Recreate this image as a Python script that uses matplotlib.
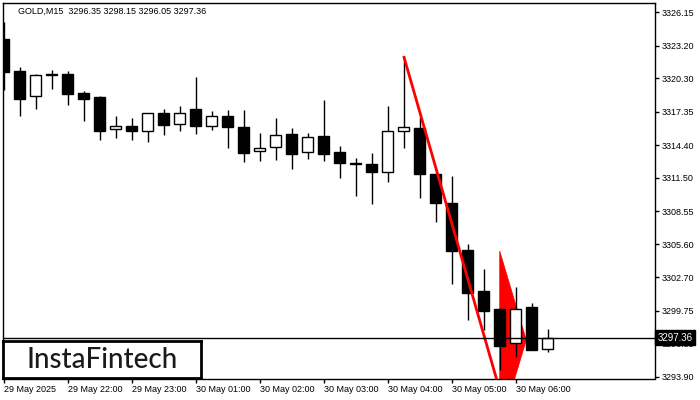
import matplotlib
matplotlib.use('Agg')
import matplotlib.pyplot as plt
from matplotlib.patches import Polygon

# GOLD M15 candles
opens = [3323.78, 3320.95, 3318.77, 3320.70, 3320.71, 3319.01, 3318.65, 3315.79, 3316.09, 3315.67,
         3317.21, 3316.24, 3317.59, 3316.11, 3316.97, 3316.00, 3313.85, 3314.20, 3315.38, 3313.76,
         3315.20, 3313.78, 3312.78, 3312.72, 3311.99, 3315.62, 3315.91, 3311.84, 3309.27, 3305.11,
         3301.48, 3299.89, 3296.86, 3300.07, 3296.35]
highs = [3325.32, 3321.31, 3320.71, 3321.04, 3320.95, 3319.18, 3318.70, 3316.97, 3316.79, 3317.25,
         3317.59, 3317.86, 3320.42, 3317.39, 3317.50, 3317.50, 3315.47, 3316.79, 3315.91, 3315.47,
         3318.39, 3314.32, 3313.25, 3313.70, 3317.86, 3322.28, 3316.91, 3311.90, 3311.66, 3305.64,
         3303.43, 3300.00, 3301.84, 3300.42, 3298.15]
lows = [3319.25, 3317.00, 3317.59, 3319.36, 3317.97, 3316.55, 3314.87, 3315.05, 3314.87, 3314.64,
        3315.32, 3315.67, 3315.40, 3315.76, 3314.17, 3312.93, 3313.02, 3313.10, 3312.31, 3313.19,
        3313.02, 3311.51, 3309.92, 3309.16, 3311.16, 3314.17, 3309.74, 3307.62, 3302.13, 3298.94,
        3298.03, 3294.49, 3295.67, 3296.25, 3296.05]
closes = [3320.84, 3318.50, 3320.60, 3320.62, 3318.92, 3318.50, 3315.67, 3316.09, 3315.62, 3317.21,
          3316.20, 3317.21, 3316.11, 3316.97, 3316.02, 3313.72, 3314.14, 3315.26, 3313.63, 3315.09,
          3313.63, 3312.84, 3312.75, 3311.99, 3315.64, 3315.97, 3311.86, 3309.30, 3305.05, 3301.33,
          3299.74, 3296.64, 3299.86, 3296.29, 3297.36]

time_labels = ['29 May 2025', '29 May 22:00', '29 May 23:00', '30 May 01:00', '30 May 02:00',
               '30 May 03:00', '30 May 04:00', '30 May 05:00', '30 May 06:00']
time_label_bars = [0, 4, 8, 12, 16, 20, 24, 28, 32]

price_ticks = [3326.15, 3323.20, 3320.30, 3317.35, 3314.40, 3311.50, 3308.55, 3305.60,
               3302.70, 3299.75, 3296.85, 3293.90]

# pattern: flagpole line and pennant
pole_x = [25, 30.9]
pole_y = [3322.28, 3293.2]
pennant_x = [31, 32.66, 31]
pennant_y = [3305.02, 3297.15, 3289.3]
last_price = 3297.36

plt.rcParams['font.family'] = ['Liberation Sans', 'DejaVu Sans']

fig = plt.figure(figsize=(7, 4), dpi=100)
W, H = 700, 400
ax = fig.add_axes([2.7 / W, (H - 378.5) / H, (655 - 2.7) / W, (378.5 - 2.7) / H])

n = len(opens)
for i in range(n):
    o, h, l, c = opens[i], highs[i], lows[i], closes[i]
    bull = c >= o
    ax.vlines(i, l, h, color='black', linewidth=1, zorder=3)
    ax.bar(i, max(abs(c - o), 0.02), bottom=min(o, c), width=0.66,
           color='white' if bull else 'black', edgecolor='black', linewidth=1, zorder=4)

ax.add_patch(Polygon(list(zip(pennant_x, pennant_y)), closed=True, facecolor='#ff0000',
                     edgecolor='#ff0000', linewidth=0.5, zorder=2))
ax.plot(pole_x, pole_y, color='#ff0000', linewidth=2, zorder=5, solid_capstyle='butt')

ax.axhline(last_price, color='black', linewidth=1, zorder=6)

ax.set_xlim(-0.05, 40.7)
ax.set_ylim(3293.74, 3327.0)

ax.yaxis.tick_right()
ax.set_yticks(price_ticks)
ax.set_yticklabels([f'{p:.2f}' for p in price_ticks])
ax.set_xticks(time_label_bars)
ax.set_xticklabels(time_labels, ha='left')
ax.tick_params(axis='both', direction='out', length=3, width=1, labelsize=6.5, colors='black', pad=1.5)
ax.tick_params(axis='y', pad=2)
for sp in ax.spines.values():
    sp.set_linewidth(1)
    sp.set_color('black')

# current price marker on the price scale (drawn over the 3296.85 label, as in the terminal)
ax.text(1.004, last_price, f'{last_price:.2f}', transform=ax.get_yaxis_transform(),
        va='center', ha='left', color='white', fontsize=7, clip_on=False, zorder=20,
        bbox=dict(boxstyle='square,pad=0.25', facecolor='black', edgecolor='black'))

fig.text(18 / W, 1 - 11 / H, 'GOLD,M15  3296.35 3298.15 3296.05 3297.36',
         fontsize=6.5, va='center', ha='left', color='black')

# logo box
logo = fig.add_axes([3 / W, (H - 378) / H, (201 - 3) / W, (378 - 341) / H])
logo.set_xticks([])
logo.set_yticks([])
for sp in logo.spines.values():
    sp.set_linewidth(2)
    sp.set_color('black')
logo.text(0.5, 0.48, 'InstaFintech', ha='center', va='center', fontsize=20,
          family=['Lato', 'DejaVu Sans'], weight='medium', color='#1a1a1a', transform=logo.transAxes)

fig.savefig('out.png', dpi=100)
